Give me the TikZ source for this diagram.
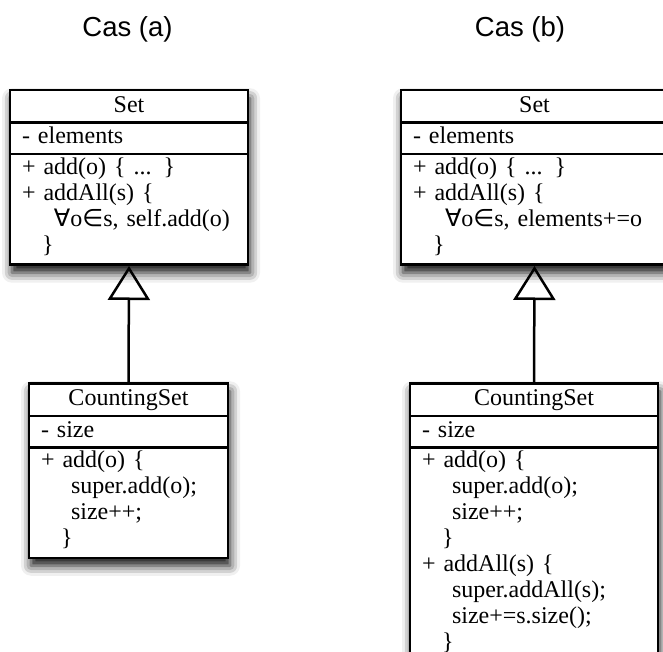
\documentclass[tikz,border=0pt]{standalone}
\usepackage{fontspec}
\setmainfont{Liberation Serif}
\newfontfamily\headfont{Liberation Sans}
\newfontfamily\symfont{DejaVu Sans}
\usetikzlibrary{shapes.multipart, arrows.meta, shadows.blur}

\newcommand{\tstrut}{\rule[-9pt]{0pt}{30pt}}
\newcommand{\astrut}{\rule[-9pt]{0pt}{29pt}}
\newcommand{\mstrut}{\rule[-7pt]{0pt}{26pt}}
\newcommand{\lstrut}{\rule[-11pt]{0pt}{30pt}}
\newcommand{\ind}[1]{\mstrut\hspace*{#1}}
\newcommand{\clsfont}{\fontsize{24}{26}\selectfont\setlength{\spaceskip}{4.5pt}}

\begin{document}
\begin{tikzpicture}[x=1pt, y=1pt,
    cls/.style={draw, line width=2.5pt, fill=white, rectangle split, rectangle split parts=3,
      inner xsep=12pt, inner ysep=0pt, align=left, anchor=north, font=\clsfont,
      blur shadow={shadow xshift=2pt, shadow yshift=-8pt, shadow blur radius=10pt, shadow opacity=95}},
    inherit/.style={line width=2.5pt, -{Triangle[open, length=34pt, width=42pt, line width=2.5pt]}},
    head/.style={anchor=base, font=\headfont\fontsize{27.5}{30}\selectfont}
]
\useasboundingbox (0,0) rectangle (663,651);
\clip (0,0) rectangle (663,651);

\node[head] (titleA) at (127.5,614) {Cas (a)};
\node[head] (titleB) at (520,614) {Cas (b)};

% Cas (a)
\node[cls, text width=214pt] (setA) at (129,562) {\centering\tstrut Set\par
  \nodepart{two}\astrut- elements
  \nodepart{three}\mstrut+ add(o) \{ ... \}\\
  \mstrut+ addAll(s) \{\\
  \ind{32pt}{\symfont ∀}o{\symfont ∈}s, self.add(o)\\
  \lstrut\hspace*{20pt}\}};
\node[cls, text width=175pt] (csetA) at (128.5,269) {\centering\tstrut CountingSet\par
  \nodepart{two}\astrut- size
  \nodepart{three}\mstrut+ add(o) \{\\
  \ind{30pt}super.add(o);\\
  \ind{30pt}size++;\\
  \lstrut\hspace*{20pt}\}};

% Cas (b)
\node[cls, text width=243pt] (setB) at (534.5,562) {\centering\tstrut Set\par
  \nodepart{two}\astrut- elements
  \nodepart{three}\mstrut+ add(o) \{ ... \}\\
  \mstrut+ addAll(s) \{\\
  \ind{32pt}{\symfont ∀}o{\symfont ∈}s, elements+=o\\
  \lstrut\hspace*{20pt}\}};
\node[cls, text width=224pt] (csetB) at (534,269) {\centering\tstrut CountingSet\par
  \nodepart{two}\astrut- size
  \nodepart{three}\mstrut+ add(o) \{\\
  \ind{30pt}super.add(o);\\
  \ind{30pt}size++;\\
  \ind{20pt}\}\\
  \mstrut+ addAll(s) \{\\
  \ind{30pt}super.addAll(s);\\
  \ind{30pt}size+=s.size();\\
  \lstrut\hspace*{20pt}\}};

\draw[inherit] (csetA.north) -- (setA.south);
\draw[inherit] (csetB.north) -- (setB.south);
\end{tikzpicture}
\end{document}
